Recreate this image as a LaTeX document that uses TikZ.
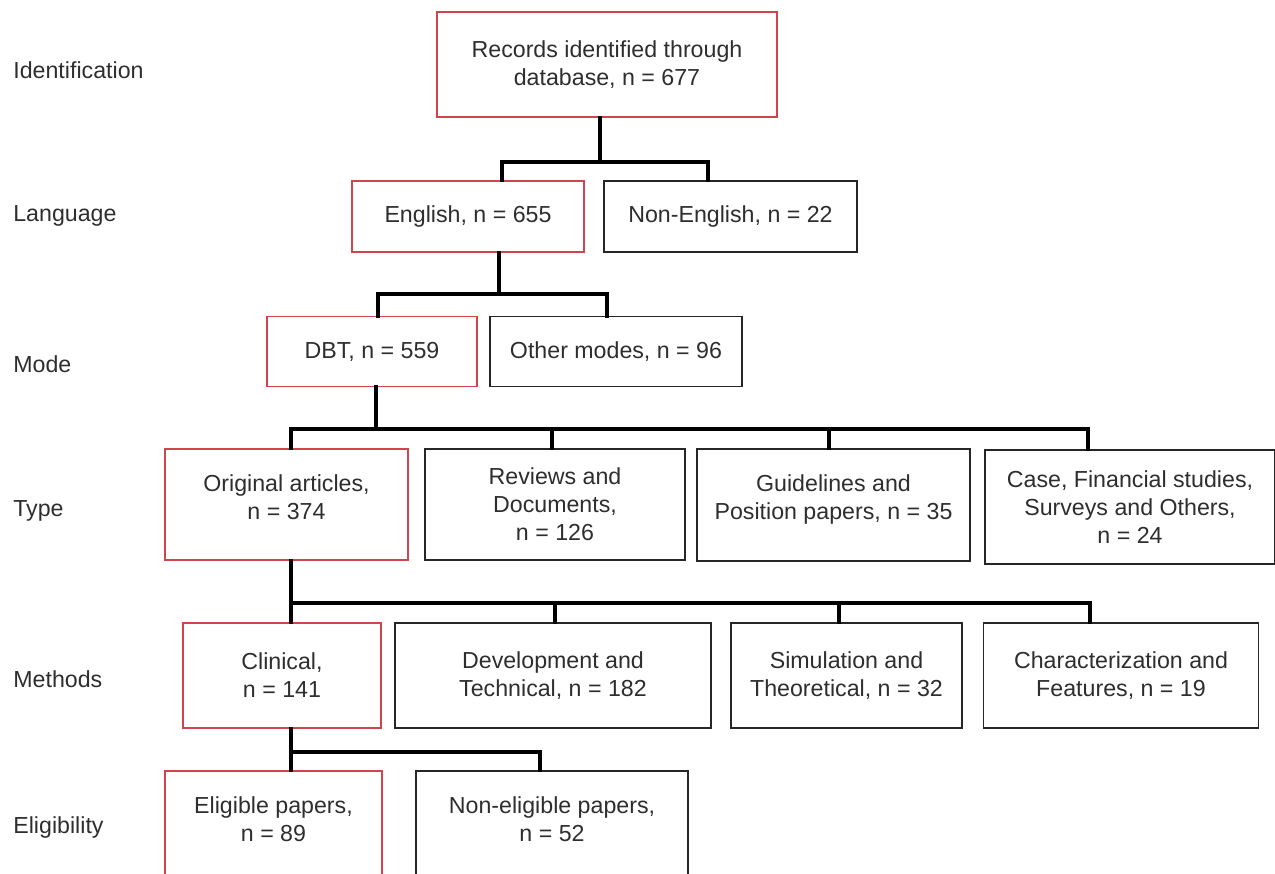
\documentclass[tikz,border=0pt]{standalone}
\usepackage{fontspec}
\setmainfont{Liberation Sans}
\usepackage{xcolor}
\usetikzlibrary{positioning}

\definecolor{boxred}{HTML}{D0454B}
\definecolor{txtgray}{HTML}{2E2E2E}

\tikzset{
    box/.style={draw=black!85, line width=0.85pt, fill=white, align=center, text=txtgray, inner sep=2pt},
    redbox/.style={box, draw=boxred},
    stage/.style={anchor=west, text=txtgray, inner sep=0pt},
    link/.style={line width=2.2pt, black, line cap=rect}
}

\begin{document}
\begin{tikzpicture}[x=0.02cm, y=-0.02cm, font=\fontsize{13.2}{16}\selectfont]
    \useasboundingbox (0,0) rectangle (1275,874);
    \clip (0,0) rectangle (1275,874);

    % stage labels
    \node[stage] (sIdent) at (13,70) {Identification};
    \node[stage] (sLang) at (13,216) {Language};
    \node[stage] (sMode) at (13,364) {Mode};
    \node[stage] (sType) at (13,511) {Type};
    \node[stage] (sMeth) at (13,679) {Methods};
    \node[stage] (sElig) at (13,828) {Eligibility};

    % boxes
    \node[redbox, minimum width=6.8cm, minimum height=2.1cm] (rec) at (607,64.5) {Records identified through\\database, n = 677};

    \node[redbox, minimum width=4.64cm, minimum height=1.42cm] (eng) at (468,216.5) {English, n = 655};
    \node[box, minimum width=5.06cm, minimum height=1.42cm] (noneng) at (730.5,216.5) {Non-English, n = 22};

    \node[redbox, minimum width=4.2cm, minimum height=1.4cm] (dbt) at (372,351.5) {DBT, n = 559};
    \node[box, minimum width=5.04cm, minimum height=1.4cm] (other) at (616,351.5) {Other modes, n = 96};

    \node[redbox, minimum width=4.86cm, minimum height=2.22cm] (orig) at (286.5,504.5) {Original articles,\\n = 374\\[-7.5pt]};
    \node[box, minimum width=5.2cm, minimum height=2.22cm] (rev) at (555,504.5) {Reviews and\\Documents,\\n = 126};
    \node[box, minimum width=5.46cm, minimum height=2.24cm] (guide) at (833.5,505) {Guidelines and\\Position papers, n = 35\\[-7.5pt]};
    \node[box, minimum width=5.8cm, minimum height=2.28cm] (case) at (1130,507) {Case, Financial studies,\\Surveys and Others,\\n = 24};

    \node[redbox, minimum width=3.96cm, minimum height=2.1cm] (clin) at (282,675.5) {Clinical,\\n = 141};
    \node[box, minimum width=6.32cm, minimum height=2.1cm] (dev) at (553,675.5) {Development and\\Technical, n = 182};
    \node[box, minimum width=4.62cm, minimum height=2.1cm] (sim) at (846.5,675.5) {Simulation and\\Theoretical, n = 32};
    \node[box, minimum width=5.5cm, minimum height=2.1cm] (char) at (1121,675.5) {Characterization and\\Features, n = 19};

    \node[redbox, minimum width=4.34cm, minimum height=2.4cm] (elig) at (273.5,831) {Eligible papers,\\n = 89\\[-2.4pt]};
    \node[box, minimum width=5.44cm, minimum height=2.4cm] (nonelig) at (552,831) {Non-eligible papers,\\n = 52\\[-2.4pt]};

    % connectors
    \coordinate (b1) at (600,162);
    \draw[link] (rec.south -| b1) -- (b1);
    \draw[link] (eng.north -| 502,0) |- (b1) -| (noneng.north -| 708,0);

    \coordinate (b2) at (499,294);
    \draw[link] (eng.south -| b2) -- (b2);
    \draw[link] (dbt.north -| 378,0) |- (b2) -| (other.north -| 607,0);

    \coordinate (b3) at (376,429);
    \draw[link] (dbt.south -| b3) -- (b3);
    \draw[link] (orig.north -| 291,0) |- (b3) -| (case.north -| 1088,0);
    \draw[link] (rev.north -| 552,0) |- (b3);
    \draw[link] (guide.north -| 829,0) |- (b3);

    \coordinate (b4) at (291,603);
    \draw[link] (orig.south -| b4) -- (b4);
    \draw[link] (clin.north -| b4) -- (b4) -| (char.north -| 1090,0);
    \draw[link] (dev.north -| 555,0) |- (b4);
    \draw[link] (sim.north -| 839,0) |- (b4);

    \coordinate (b5) at (291,752);
    \draw[link] (clin.south -| b5) -- (b5) -| (nonelig.north -| 540,0);
    \draw[link] (elig.north -| b5) -- (b5);
\end{tikzpicture}
\end{document}
